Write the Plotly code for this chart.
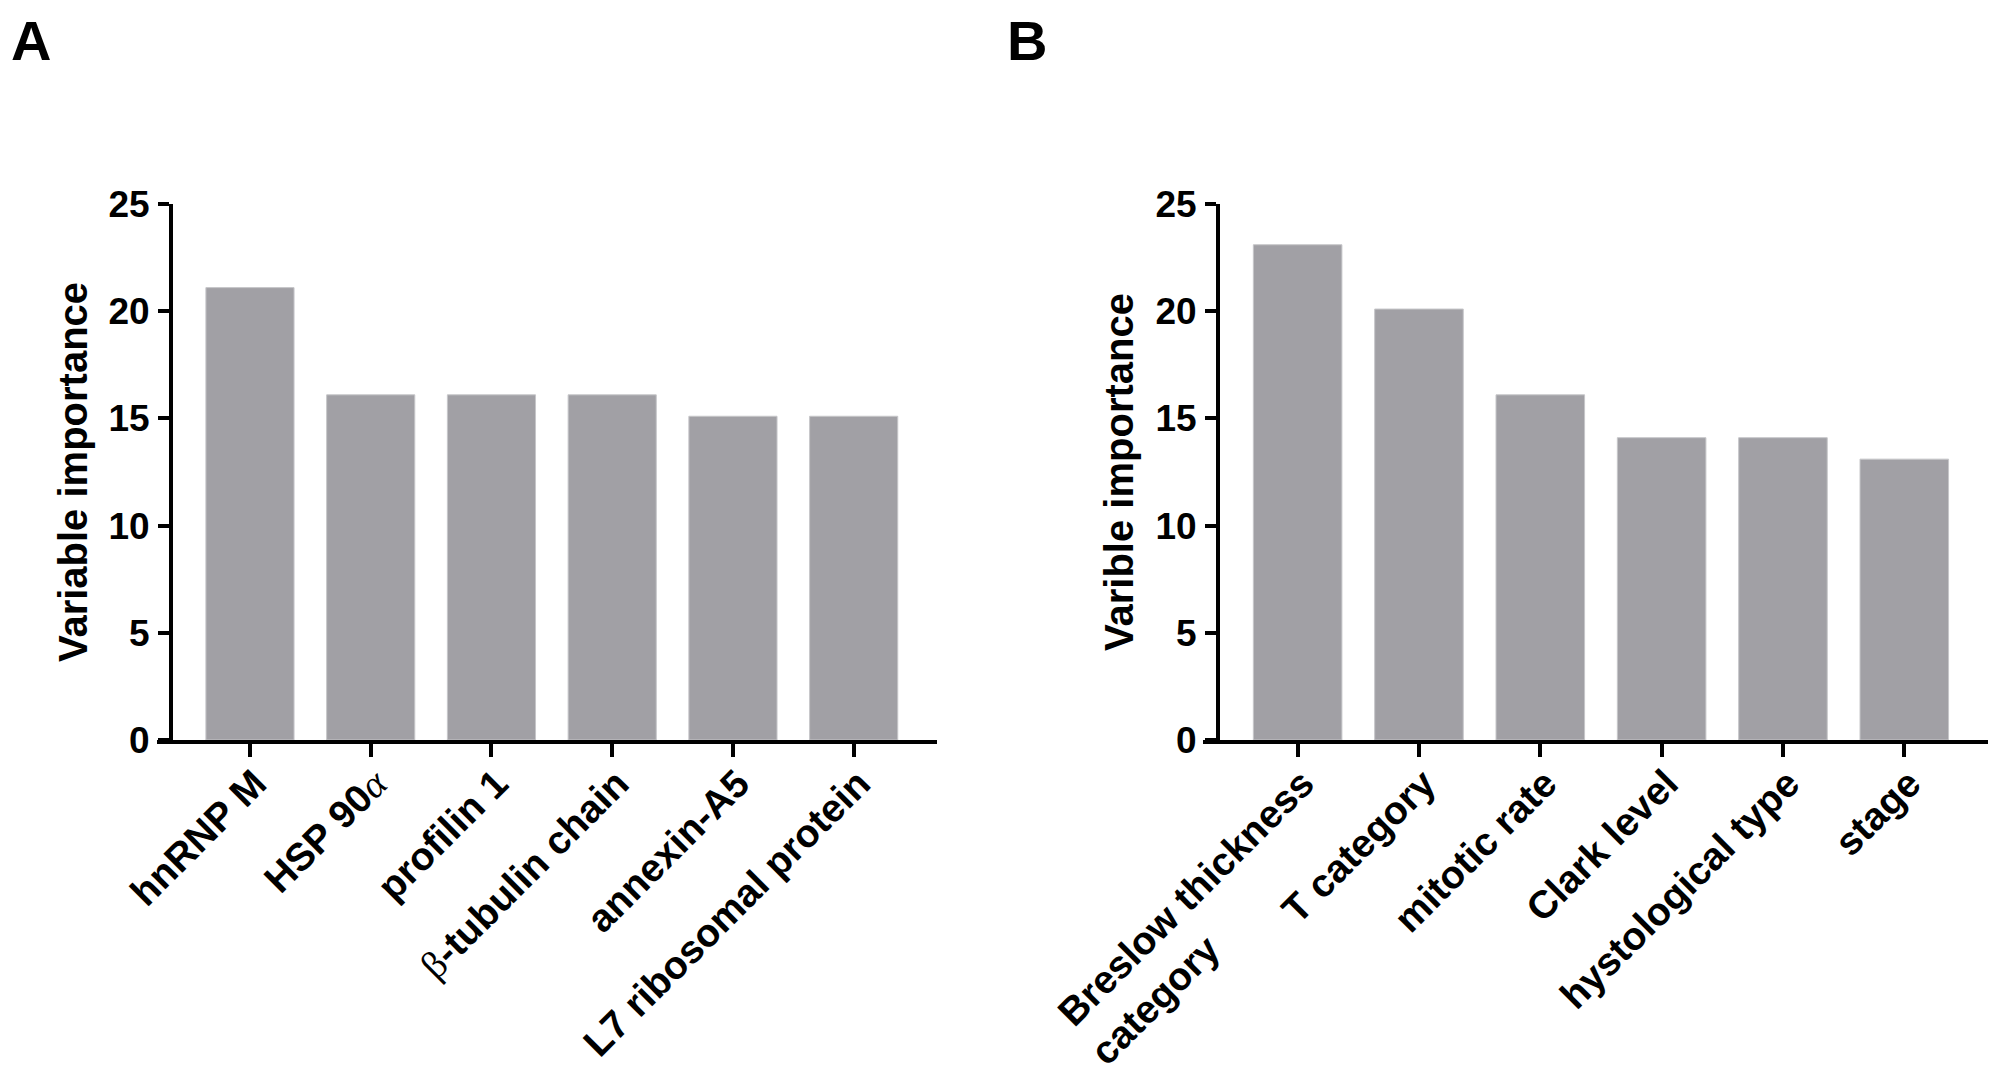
import plotly.graph_objects as go

# ---- data ----
cats_a = ["hnRNP M", "HSP 90α", "profilin 1", "β-tubulin chain", "annexin-A5", "L7 ribosomal protein"]
vals_a = [21.1, 16.1, 16.1, 16.1, 15.1, 15.1]

cats_b = ["Breslow thickness category", "T category", "mitotic rate", "Clark level", "hystological type", "stage"]
vals_b = [23.1, 20.1, 16.1, 14.1, 14.1, 13.1]

yticks = [0, 5, 10, 15, 20, 25]
ytitle_a = "Variable importance"
ytitle_b = "Varible importance"
panel_labels = ["A", "B"]

# ---- style ----
# page body has an 8px margin, so the figure is 16px smaller than the window
W, H = 1984, 1064
OFF = 8
FONT = "Liberation Sans, Arial, sans-serif"
BAR = "#a1a0a5"
BAR_EDGE = "#c6c6c9"


def px_x(sx):
    return (sx - OFF) / W


def px_y(sy):
    return (H - (sy - OFF)) / H


def tick_label(s):
    s = s.replace("α", '<span style="font-family:Liberation Serif;font-weight:normal;font-style:italic">α</span>')
    s = s.replace("β", '<span style="font-family:Liberation Serif;font-weight:normal">β</span>')
    if s == "Breslow thickness category":
        s = "Breslow thickness<br>category" + "\u00a0" * 17
    return s


fig = go.Figure()
fig.add_trace(go.Bar(x=cats_a, y=vals_a, xaxis="x", yaxis="y", width=0.73,
                     marker=dict(color=BAR, line=dict(color=BAR_EDGE, width=1)), showlegend=False))
fig.add_trace(go.Bar(x=cats_b, y=vals_b, xaxis="x2", yaxis="y2", width=0.73,
                     marker=dict(color=BAR, line=dict(color=BAR_EDGE, width=1)), showlegend=False))

ydom = [px_y(740), px_y(204)]

common_x = dict(type="category", ticks="outside", ticklen=13, tickwidth=4, tickcolor="black",
                linewidth=4, linecolor="black", showline=True, showgrid=False, zeroline=False,
                automargin=False, ticklabelstandoff=-12, ticklabelshift=5,
                tickangle=-45, tickfont=dict(family=FONT, size=39, color="black", weight="bold"))
common_y = dict(range=[0, 25], tickvals=yticks, ticks="outside", ticklen=11, tickwidth=4,
                tickcolor="black", linewidth=4, linecolor="black", showline=True, showgrid=False,
                zeroline=False, domain=ydom, ticklabelstandoff=1, automargin=False,
                tickfont=dict(family=FONT, size=37, color="black", weight="bold"))

fig.update_layout(
    template="none",
    width=W, height=H,
    margin=dict(l=0, r=0, t=0, b=0, pad=0),
    paper_bgcolor="white", plot_bgcolor="white",
    bargap=0.27,
    xaxis=dict(common_x, domain=[px_x(157), px_x(937)], range=[-0.77, 5.69], anchor="y",
               tickvals=cats_a, ticktext=[tick_label(c) for c in cats_a]),
    yaxis=dict(common_y, anchor="free", position=px_x(171),
               title=dict(text=ytitle_a, standoff=7,
                          font=dict(family=FONT, size=40, color="black", weight="bold"))),
    xaxis2=dict(common_x, domain=[px_x(1203), px_x(1988)], range=[-0.78, 5.69], anchor="y2",
                tickvals=cats_b, ticktext=[tick_label(c) for c in cats_b]),
    yaxis2=dict(common_y, anchor="free", position=px_x(1218),
                title=dict(text=ytitle_b, standoff=8,
                           font=dict(family=FONT, size=40, color="black", weight="bold"))),
    annotations=[
        dict(text=panel_labels[0], x=2 / W, y=1.0, xref="paper", yref="paper",
             xanchor="left", yanchor="top", showarrow=False, borderpad=0,
             font=dict(family=FONT, size=56, color="black", weight="bold")),
        dict(text=panel_labels[1], x=998 / W, y=1.0, xref="paper", yref="paper",
             xanchor="left", yanchor="top", showarrow=False, borderpad=0,
             font=dict(family=FONT, size=56, color="black", weight="bold")),
    ],
)

fig.write_html("out.html")
